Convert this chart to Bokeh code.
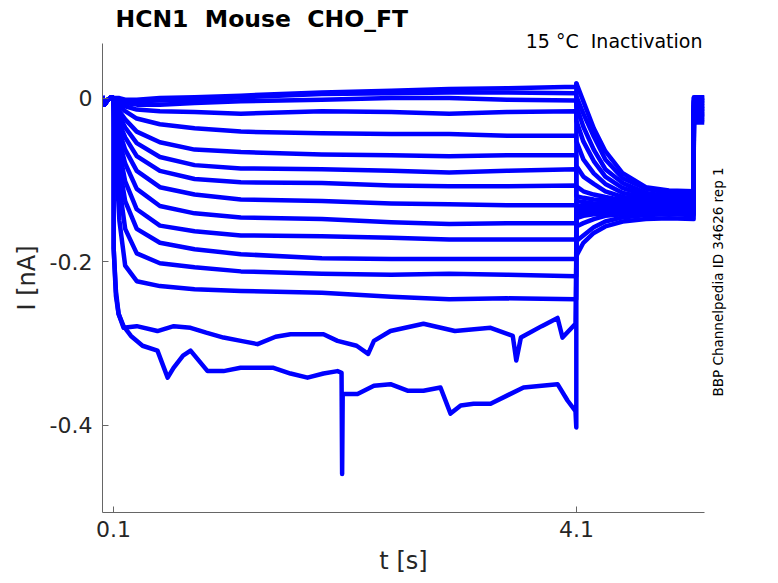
import math
from bokeh.plotting import figure
from bokeh.models import Range1d, FixedTicker, LinearAxis, Title
from bokeh.embed import file_html
from bokeh.resources import INLINE

# ---------------- data ----------------
# holding segment before the voltage step (s, nA)
hold_t = [0.0, 0.02, 0.05, 0.08, 0.1]
hold_I = [0.002, -0.008, -0.002, 0.001, 0.000]

# test step (0.1 s .. 4.1 s), traces 1-14
step_t = [0.105, 0.15, 0.2, 0.3, 0.5, 0.8, 1.2, 1.9, 2.5, 3.0, 3.5, 4.098]
step_I = [
    [0.000, 0.000, -0.002, -0.002, 0.000, 0.001, 0.003, 0.007, 0.009, 0.011, 0.012, 0.014],
    [0.000, -0.002, -0.003, -0.004, -0.003, -0.002, 0.001, 0.005, 0.006, 0.007, 0.007, 0.006],
    [-0.002, -0.004, -0.006, -0.008, -0.008, -0.006, -0.004, -0.002, 0.000, 0.000, -0.002, -0.003],
    [-0.003, -0.006, -0.010, -0.014, -0.016, -0.017, -0.019, -0.016, -0.017, -0.019, -0.017, -0.016],
    [-0.004, -0.010, -0.016, -0.025, -0.032, -0.037, -0.041, -0.043, -0.044, -0.044, -0.046, -0.046],
    [-0.006, -0.016, -0.026, -0.041, -0.054, -0.063, -0.066, -0.069, -0.070, -0.071, -0.070, -0.070],
    [-0.008, -0.022, -0.036, -0.055, -0.072, -0.082, -0.086, -0.087, -0.089, -0.091, -0.089, -0.087],
    [-0.009, -0.031, -0.048, -0.071, -0.089, -0.099, -0.103, -0.104, -0.107, -0.108, -0.108, -0.107],
    [-0.010, -0.041, -0.063, -0.089, -0.109, -0.118, -0.124, -0.126, -0.129, -0.130, -0.131, -0.131],
    [-0.011, -0.053, -0.080, -0.111, -0.132, -0.141, -0.146, -0.148, -0.152, -0.154, -0.153, -0.153],
    [-0.014, -0.065, -0.102, -0.136, -0.156, -0.163, -0.168, -0.169, -0.171, -0.173, -0.173, -0.173],
    [-0.016, -0.083, -0.126, -0.160, -0.177, -0.185, -0.191, -0.196, -0.197, -0.197, -0.197, -0.197],
    [-0.022, -0.108, -0.160, -0.190, -0.202, -0.207, -0.212, -0.215, -0.216, -0.215, -0.216, -0.218],
    [-0.035, -0.150, -0.205, -0.224, -0.230, -0.234, -0.236, -0.238, -0.243, -0.246, -0.245, -0.246],
]

# test step, trace 15 (noisy, more samples)
t15_t = [0.1005, 0.12, 0.143, 0.186, 0.3, 0.479, 0.62, 0.765, 0.9, 1.05, 1.2, 1.344, 1.5,
         1.629, 1.914, 2.035, 2.2, 2.3, 2.35, 2.493, 2.778, 3.05, 3.358, 3.55, 3.58, 3.62,
         3.8, 3.937, 3.98, 4.092]
t15_I = [-0.184, -0.236, -0.264, -0.281, -0.279, -0.285, -0.279, -0.281, -0.287, -0.293,
         -0.297, -0.301, -0.292, -0.289, -0.289, -0.297, -0.303, -0.313, -0.297, -0.285,
         -0.276, -0.285, -0.281, -0.291, -0.321, -0.293, -0.279, -0.269, -0.293, -0.276]

# test step, trace 16 (deepest, noisy)
t16_t = [0.1005, 0.12, 0.143, 0.186, 0.25, 0.35, 0.479, 0.567, 0.618, 0.7, 0.765, 0.912,
         1.05, 1.197, 1.344, 1.482, 1.629, 1.776, 1.914, 2.035, 2.07, 2.075, 2.08, 2.208,
         2.35, 2.493, 2.64, 2.778, 2.925, 3.012, 3.1, 3.211, 3.358, 3.5, 3.643, 3.8, 3.937,
         4.023, 4.092, 4.099, 4.0995]
t16_I = [-0.184, -0.242, -0.264, -0.279, -0.291, -0.303, -0.309, -0.342, -0.330, -0.315,
         -0.309, -0.334, -0.334, -0.330, -0.330, -0.330, -0.337, -0.342, -0.337, -0.334,
         -0.336, -0.460, -0.362, -0.362, -0.352, -0.350, -0.358, -0.358, -0.354, -0.386,
         -0.376, -0.374, -0.374, -0.364, -0.354, -0.352, -0.350, -0.370, -0.383, -0.403,
         0.018]

# tail step (4.1 s .. 5.11 s), all 16 traces
tail_t = [4.1, 4.16, 4.25, 4.35, 4.5, 4.7, 4.9, 5.113]
tail_I = [
    [0.018, -0.004, -0.037, -0.065, -0.092, -0.109, -0.113, -0.114],
    [0.002, -0.019, -0.047, -0.075, -0.098, -0.111, -0.116, -0.119],
    [-0.010, -0.035, -0.063, -0.087, -0.104, -0.116, -0.120, -0.121],
    [-0.028, -0.053, -0.077, -0.096, -0.110, -0.119, -0.122, -0.124],
    [-0.053, -0.075, -0.092, -0.105, -0.116, -0.122, -0.125, -0.126],
    [-0.083, -0.096, -0.105, -0.114, -0.121, -0.125, -0.127, -0.129],
    [-0.108, -0.114, -0.118, -0.121, -0.125, -0.127, -0.129, -0.130],
    [-0.120, -0.122, -0.124, -0.125, -0.127, -0.130, -0.131, -0.131],
    [-0.126, -0.127, -0.129, -0.129, -0.130, -0.131, -0.132, -0.132],
    [-0.132, -0.132, -0.132, -0.132, -0.132, -0.133, -0.133, -0.133],
    [-0.136, -0.136, -0.135, -0.135, -0.135, -0.135, -0.135, -0.135],
    [-0.141, -0.140, -0.138, -0.137, -0.136, -0.136, -0.136, -0.136],
    [-0.147, -0.144, -0.142, -0.141, -0.140, -0.138, -0.138, -0.138],
    [-0.157, -0.153, -0.148, -0.144, -0.142, -0.141, -0.141, -0.141],
    [-0.175, -0.168, -0.158, -0.151, -0.146, -0.143, -0.142, -0.143],
    [-0.193, -0.177, -0.165, -0.157, -0.151, -0.148, -0.147, -0.148],
]

# back to holding at the end
end_t = [5.115, 5.207]
end_I = [0.001, 0.000, -0.003, -0.004, -0.006, -0.009, -0.010, -0.013,
         -0.014, -0.016, -0.019, -0.020, -0.022, -0.025, -0.027, -0.030]

x_ticks = [0.1, 4.1]
y_ticks = [-0.4, -0.2, 0]
y_tick_labels = {-0.4: "-0.4", -0.2: "-0.2", 0: "0"}

NB = "\u00a0"
title_text = "HCN1" + NB + " Mouse" + NB + " CHO_FT"
subtitle_text = "15 \u00b0C" + NB + " Inactivation"
side_text = "BBP Channelpedia ID 34626 rep 1"
side_text_start = -0.365   # y (nA) where the vertical note begins
x_label = "t [s]"
y_label = "I [nA]"

# ---------------- figure ----------------
FONT = "DejaVu Sans"
p = figure(width=778, height=583, output_backend="svg", toolbar_location=None,
           x_range=Range1d(0.004, 5.207), y_range=Range1d(-0.507, 0.0668),
           min_border_left=102, min_border_right=74, min_border_top=42,
           min_border_bottom=71)
p.grid.visible = False
p.outline_line_color = None
p.background_fill_color = "white"
p.border_fill_color = "white"

for k in range(16):
    if k < 14:
        mid_t, mid_I = step_t, step_I[k]
    elif k == 14:
        mid_t, mid_I = t15_t, t15_I
    else:
        mid_t, mid_I = t16_t, t16_I
    ts = hold_t + mid_t + tail_t + end_t
    Is = hold_I + mid_I + tail_I[k] + [end_I[k], end_I[k]]
    p.line(ts, Is, line_color="#0000ff", line_width=4.5, line_join="round")

for ax in (p.xaxis, p.yaxis):
    ax.axis_line_color = "#666666"
    ax.major_tick_line_color = "#666666"
    ax.major_tick_in = 6
    ax.major_tick_out = 0
    ax.minor_tick_line_color = None
    ax.major_label_text_font = FONT
    ax.major_label_text_font_size = "22px"
    ax.major_label_text_color = "#262626"
    ax.axis_label_text_font = FONT
    ax.axis_label_text_font_size = "24px"
    ax.axis_label_text_font_style = "normal"
    ax.axis_label_text_color = "#262626"

p.xaxis.ticker = FixedTicker(ticks=x_ticks)
p.xaxis.major_label_standoff = 8
p.xaxis.axis_label = x_label
p.xaxis.axis_label_standoff = 7
p.yaxis.ticker = FixedTicker(ticks=y_ticks)
p.yaxis.major_label_overrides = y_tick_labels
p.yaxis.major_label_standoff = 10
p.yaxis.axis_label = y_label
p.yaxis.axis_label_standoff = 6

# right-hand vertical note, drawn as the single tick label of a bare right axis
side_axis = LinearAxis(ticker=FixedTicker(ticks=[side_text_start]),
                       major_label_overrides={side_text_start: side_text},
                       major_label_orientation=math.pi / 2,
                       major_label_standoff=8,
                       major_label_text_font=FONT,
                       major_label_text_font_size="13.5px",
                       major_label_text_color="#000000",
                       axis_line_color=None, major_tick_line_color=None,
                       minor_tick_line_color=None)
p.add_layout(side_axis, "right")

# subtitle (closest to the plot) then the bold title above it
p.add_layout(Title(text=subtitle_text, align="right", offset=2, standoff=-16,
                   text_font=FONT, text_font_size="19px", text_font_style="normal",
                   text_color="#000000"), "above")
p.add_layout(Title(text=title_text, align="left", offset=13, standoff=5,
                   text_font=FONT, text_font_size="23.5px", text_font_style="bold",
                   text_color="#000000"), "above")

open("out.html", "w").write(file_html(p, INLINE))
